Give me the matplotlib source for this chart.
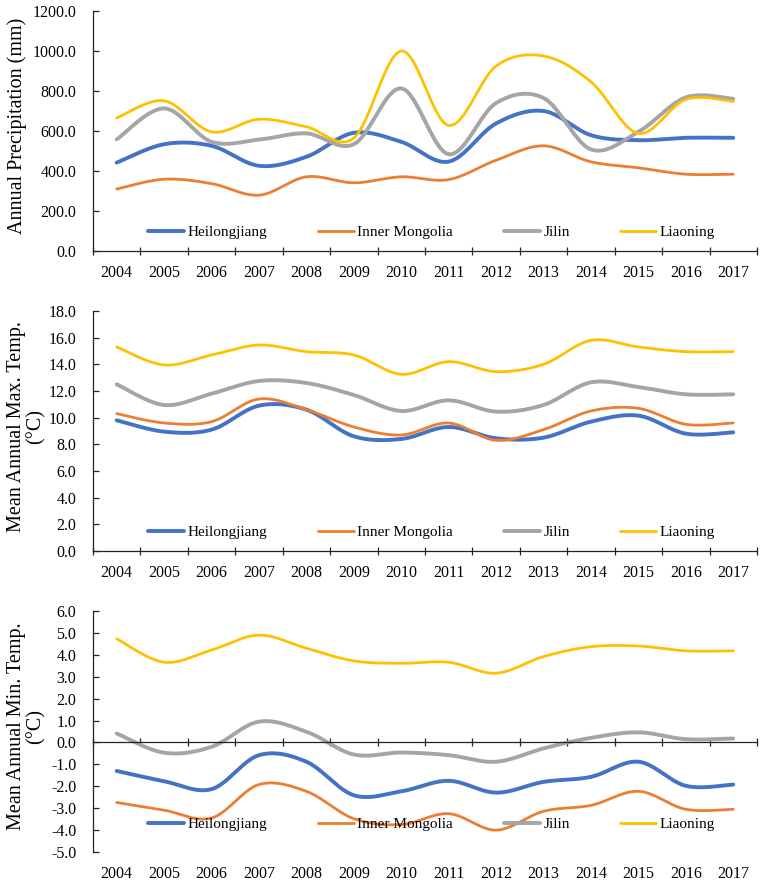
import numpy as np
import matplotlib
matplotlib.use("Agg")
import matplotlib.pyplot as plt

plt.rcParams["font.family"] = ["Liberation Serif", "DejaVu Serif"]

years = ["2004", "2005", "2006", "2007", "2008", "2009", "2010",
         "2011", "2012", "2013", "2014", "2015", "2016", "2017"]
provinces = ["Heilongjiang", "Inner Mongolia", "Jilin", "Liaoning"]

# annual precipitation (mm)
precip_hlj = [442, 534, 526, 426, 471, 591, 546, 447, 638, 700, 579, 554, 566, 566]
precip_nmg = [310, 359, 337, 279, 371, 341, 371, 357, 454, 526, 446, 416, 384, 384]
precip_jl = [558, 713, 546, 557, 588, 534, 813, 484, 740, 765, 508, 596, 768, 761]
precip_ln = [665, 751, 596, 659, 621, 565, 1000, 628, 925, 975, 846, 588, 758, 748]

# mean annual max temperature (°C)
tmax_hlj = [9.8, 8.95, 9.1, 10.9, 10.6, 8.6, 8.4, 9.3, 8.45, 8.5, 9.7, 10.15, 8.8, 8.9]
tmax_nmg = [10.3, 9.6, 9.7, 11.4, 10.6, 9.3, 8.7, 9.6, 8.3, 9.1, 10.5, 10.7, 9.5, 9.6]
tmax_jl = [12.5, 10.95, 11.8, 12.75, 12.6, 11.7, 10.5, 11.3, 10.45, 10.95, 12.65, 12.3, 11.75, 11.75]
tmax_ln = [15.3, 13.95, 14.7, 15.45, 14.95, 14.7, 13.25, 14.2, 13.45, 14.0, 15.8, 15.3, 14.95, 14.95]

# mean annual min temperature (°C)
tmin_hlj = [-1.3, -1.77, -2.13, -0.58, -0.88, -2.41, -2.23, -1.75, -2.29, -1.8, -1.57, -0.88, -1.98, -1.92]
tmin_nmg = [-2.74, -3.09, -3.45, -1.92, -2.23, -3.48, -3.75, -3.25, -4.0, -3.14, -2.87, -2.23, -3.05, -3.05]
tmin_jl = [0.41, -0.47, -0.2, 0.95, 0.49, -0.55, -0.46, -0.58, -0.88, -0.27, 0.21, 0.46, 0.15, 0.18]
tmin_ln = [4.73, 3.66, 4.22, 4.9, 4.3, 3.72, 3.61, 3.66, 3.16, 3.92, 4.37, 4.4, 4.18, 4.18]

colors = ["#4472C4", "#ED7D31", "#A5A5A5", "#FFC000"]
widths = [2.8, 2.0, 2.8, 2.0]


def smooth(values, n=24):
    """Excel-like smoothed line: cubic Bezier through each point."""
    pts = np.column_stack([np.arange(len(values)), values]).astype(float)
    p = np.vstack([pts[0], pts, pts[-1]])
    t = np.linspace(0, 1, n)[:, None]
    segs = []
    for i in range(len(values) - 1):
        p0, p1, p2, p3 = p[i], p[i + 1], p[i + 2], p[i + 3]
        c1 = p1 + (p2 - p0) / 6
        c2 = p2 - (p3 - p1) / 6
        seg = (1 - t) ** 3 * p1 + 3 * (1 - t) ** 2 * t * c1 + 3 * (1 - t) * t ** 2 * c2 + t ** 3 * p2
        segs.append(seg if i == 0 else seg[1:])
    return np.vstack(segs)


def panel(ax, series, ylabel, yticks, leg_y, label_x, zero_axis=False):
    for vals, name, c, lw in zip(series, provinces, colors, widths):
        xy = smooth(vals)
        ax.plot(xy[:, 0], xy[:, 1], color=c, lw=lw, label=name, solid_capstyle="round")

    ax.set_xlim(-0.5, len(years) - 0.5)
    ax.set_ylim(yticks[0], yticks[-1])
    ax.set_yticks(yticks)
    ax.set_yticklabels([f"{v:.1f}" for v in yticks])
    for s in ["top", "right"]:
        ax.spines[s].set_visible(False)
    for s in ["left", "bottom"]:
        ax.spines[s].set_color("#222222")
        ax.spines[s].set_linewidth(0.9)
    if zero_axis:
        ax.spines["bottom"].set_position(("data", 0))

    ax.set_xticks(np.arange(len(years) + 1) - 0.5)
    ax.tick_params(axis="x", direction="inout", length=6, width=0.9,
                   color="#222222", labelbottom=False)
    ax.tick_params(axis="y", direction="in", length=4, width=0.9,
                   color="#222222", labelsize=11.5, pad=12)

    sec = ax.secondary_xaxis("bottom")
    sec.spines["bottom"].set_visible(False)
    sec.set_xticks(np.arange(len(years)))
    sec.set_xticklabels(years)
    sec.tick_params(axis="x", length=0, labelsize=11.5, pad=10)

    ax.set_ylabel(ylabel, fontsize=14.5, linespacing=1.0)
    ax.yaxis.set_label_coords(label_x, 0.52)

    ax.legend(loc="center", bbox_to_anchor=(0.51, leg_y), ncol=4, frameon=False,
              fontsize=11, handlelength=2.35, handletextpad=0.25,
              columnspacing=3.3)


fig = plt.figure(figsize=(7.61, 8.81), dpi=100)
ax1 = fig.add_axes([0.1222, 0.7151, 0.8725, 0.2724])
ax2 = fig.add_axes([0.1222, 0.3746, 0.8725, 0.2724])
ax3 = fig.add_axes([0.1222, 0.0329, 0.8725, 0.2736])

panel(ax1, [precip_hlj, precip_nmg, precip_jl, precip_ln],
      "Annual Precipitation (mm)", list(range(0, 1201, 200)), 0.079, -0.099)
panel(ax2, [tmax_hlj, tmax_nmg, tmax_jl, tmax_ln],
      "Mean Annual Max. Temp.\n(°C)", list(np.arange(0, 18.1, 2.0)), 0.079, -0.072)
panel(ax3, [tmin_hlj, tmin_nmg, tmin_jl, tmin_ln],
      "Mean Annual Min. Temp.\n(°C)", list(np.arange(-5, 6.1, 1.0)), 0.116, -0.072,
      zero_axis=True)

fig.savefig("out.png", dpi=100)
